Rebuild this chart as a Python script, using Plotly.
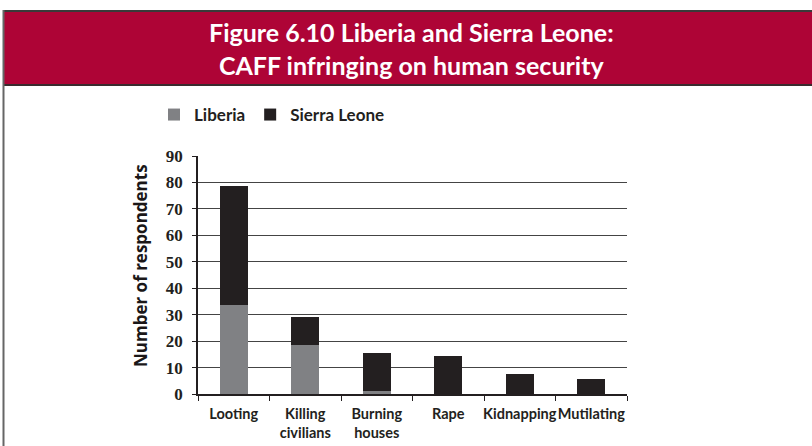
import plotly.graph_objects as go

categories = ["Looting", "Killing<br>civilians", "Burning<br>houses", "Rape", "Kidnapping", "Mutilating"]
liberia = [33.5, 18.6, 1.1, 0, 0, 0]
sierra_leone = [45.2, 10.7, 14.5, 14.3, 7.7, 5.7]
y_ticks = [0, 10, 20, 30, 40, 50, 60, 70, 80, 90]
title_lines = ["Figure 6.10 Liberia and Sierra Leone:", "CAFF infringing on human security"]

W, H = 812, 446
L, R, T, B = 198, 185, 156, 52
pw, ph = W - L - R, H - T - B

def px(x):
    return (x - L) / pw

def py(y):
    return (H - B - y) / ph

SANS = "Lato, 'Open Sans', sans-serif"
SERIF = "'Liberation Serif', 'DejaVu Serif', serif"

fig = go.Figure()
fig.add_trace(go.Bar(x=categories, y=liberia, name="<b>Liberia</b>", marker=dict(color="#808184", line=dict(width=0))))
fig.add_trace(go.Bar(x=categories, y=sierra_leone, name="<b>Sierra Leone</b>", marker=dict(color="#231F20", line=dict(width=0))))

shapes = [
    dict(type="rect", xref="paper", yref="paper", x0=px(3), x1=px(830), y0=py(85), y1=py(11),
         fillcolor="#AE0436", line=dict(width=0), layer="below"),
    dict(type="line", xref="paper", yref="paper", x0=px(3), x1=px(830), y0=py(11), y1=py(11),
         line=dict(color="#3a3a3a", width=2)),
    dict(type="line", xref="paper", yref="paper", x0=px(3), x1=px(830), y0=py(85), y1=py(85),
         line=dict(color="#3a2a2e", width=2)),
    dict(type="line", xref="paper", yref="paper", x0=px(3.5), x1=px(3.5), y0=py(10), y1=py(460),
         line=dict(color="#666666", width=2)),
]

annotations = [
    dict(text="<b>" + title_lines[0] + "<br>" + title_lines[1] + "</b>", xref="paper", yref="paper",
         x=px(411), y=py(48.5), xanchor="center", yanchor="middle", showarrow=False,
         font=dict(family=SANS, size=25, color="white")),
    dict(text="<b>Number of respondents</b>", xref="paper", yref="paper", x=px(140), y=py(266),
         xanchor="center", yanchor="middle", textangle=-90, showarrow=False,
         font=dict(family="'Open Sans', sans-serif", size=17, color="#1a1718", weight="bold")),
]

fig.update_layout(
    width=W, height=H,
    margin=dict(l=L, r=R, t=T, b=B, pad=0, autoexpand=False),
    paper_bgcolor="white", plot_bgcolor="white",
    barmode="stack", bargap=0.61,
    shapes=shapes, annotations=annotations,
    showlegend=True,
    legend=dict(orientation="h", x=px(154), xanchor="left", y=py(115), yanchor="middle",
                font=dict(family=SANS, size=17, color="#231F20"), bgcolor="rgba(0,0,0,0)",
                traceorder="normal", itemwidth=30),
    xaxis=dict(type="category", showline=True, linecolor="#231F20", linewidth=1.5,
               ticks="outside", tickson="boundaries", ticklen=5, tickcolor="#231F20",
               showgrid=False, tickangle=0, automargin=False, ticklabelstandoff=6,
               tickfont=dict(family=SANS, size=14.5, color="#231F20", weight="bold")),
    yaxis=dict(range=[0, 90], tickvals=y_ticks, showline=True, linecolor="#231F20", linewidth=1.5,
               ticks="outside", ticklen=4, tickcolor="#231F20", automargin=False,
               showgrid=True, gridcolor="#444444", gridwidth=1, zeroline=False,
               tickfont=dict(family=SERIF, size=17, color="#231F20", weight="bold"),
               ticklabelstandoff=6),
)

fig.write_html("out.html", post_script="document.body.style.margin='0';",
               config={"displayModeBar": False})
